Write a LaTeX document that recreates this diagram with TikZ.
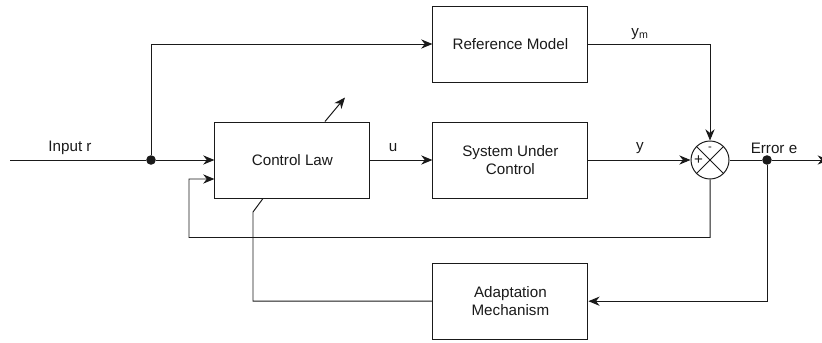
\documentclass[tikz,border=0pt]{standalone}
\usepackage{fontspec}
\setmainfont{Liberation Sans}
\usetikzlibrary{arrows.meta, positioning, calc}
\definecolor{ink}{HTML}{1A1A1A}

\begin{document}
\begin{tikzpicture}[
  >={Stealth[length=2.8mm, width=2.3mm, inset=0.9mm]},
  block/.style={draw=ink, line width=0.7pt, fill=white, minimum width=3.875cm,
    minimum height=1.9cm, font=\fontsize{10.8}{12.8}\selectfont, text=ink,
    align=center, inner sep=2pt},
  sumjunc/.style={draw=ink, line width=0.7pt, circle, minimum size=0.95cm, inner sep=0pt},
  junc/.style={circle, fill=ink, minimum size=0.24cm, inner sep=0pt},
  lbl/.style={font=\fontsize{10.8}{12.8}\selectfont, text=ink},
  arr/.style={->, line width=0.7pt, ink},
  ln/.style={line width=0.7pt, ink},
]

% Canvas
\useasboundingbox (0,0) rectangle (20.55,-8.575);

% =============================================
% Blocks
% =============================================
\node[block] (refm) at (12.76,-1.1) {Reference Model};
\node[block] (claw) at (7.31,-4.0) {Control Law};
\node[block] (plant) at (12.76,-4.0) {System Under\\Control};
\node[block] (adapt) at (12.76,-7.53) {Adaptation\\Mechanism};

% Summing junction with cross
\node[sumjunc] (sum) at (17.75,-4.0) {};
\draw[ln] (sum.north west) -- (sum.south east);
\draw[ln] (sum.north east) -- (sum.south west);
\node[lbl, font=\footnotesize] at ([yshift=-0.2cm]sum.north) {-};
\node[lbl] at ([xshift=0.2cm]sum.west) {+};

% Branch points and free ends
\coordinate (rin) at (0.25,-4.0);
\node[junc] (rdot) at (3.775,-4.0) {};
\node[junc] (edot) at (19.175,-4.0) {};
\coordinate (eout) at (20.72,-4.0);

% =============================================
% Forward path
% =============================================
\draw[ln] (rin) -- (rdot);
\draw[arr] (rdot) -- (claw.west);
\draw[arr] (rdot) |- (refm.west);
\draw[arr] (claw.east) -- (plant.west);
\draw[arr] (plant.east) -- (sum.west);
\draw[arr] (refm.east) -| (sum.north);
\draw[ln] (sum.east) -- (edot);
\draw[arr] (edot) -- (eout);

% Labels on the signals
\node[lbl] at (1.75,-3.7) {Input r};
\node[lbl] at (9.83,-3.7) {u};
\node[lbl] at (16.0,-3.7) {y};
\node[lbl] at (16.0,-0.85) {y\textsubscript{m}};
\node[lbl] at (19.35,-3.72) {Error e};

% =============================================
% Feedback loop and adaptation
% =============================================
\draw[arr] (sum.south) -- ++(0,-1.45) -| (4.725,-4.475) -- ([yshift=-0.475cm]claw.west);
\draw[arr] (edot) |- (adapt.east);
\draw[ln] (adapt.west) -| (6.325,-5.3) -- ([xshift=-0.735cm]claw.south);

% Adjustable parameter arrow
\draw[arr] ([xshift=0.815cm]claw.north) -- ++(0.5,0.6);

\end{tikzpicture}
\end{document}
